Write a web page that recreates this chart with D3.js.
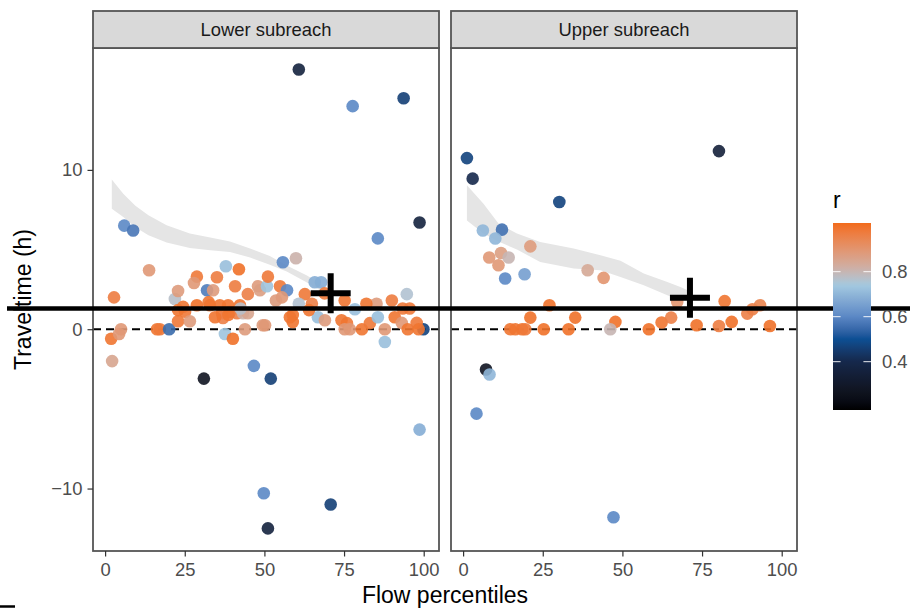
<!DOCTYPE html>
<html>
<head>
<meta charset="utf-8">
<script src="https://cdn.jsdelivr.net/npm/d3@7"></script>
<style>
  body { margin: 0; background: #fff; }
  svg { display: block; }
  text { font-family: "Liberation Sans", Arial, sans-serif; }
</style>
</head>
<body>
<svg id="chart" width="910" height="610"></svg>
<script>
// ---- data ----
const panelNames = ["Lower subreach", "Upper subreach"];

// Lower subreach: flow percentile, travel time (h), correlation r
const lowerX = [60.8, 77.7, 93.7, 6.0, 8.8, 98.7, 85.6, 2.2, 31.0, 46.7, 52.0, 98.7, 49.8, 70.8, 51.1,
  99.9, 87.8, 94.7, 13.8, 2.8, 1.9, 4.4, 5.0, 16.3, 17.2, 20.1, 21.9, 22.9, 28.8, 27.9,
  22.9, 24.5, 25.1, 22.9, 26.6, 32.0, 33.9, 35.1, 37.9, 42.0, 40.8, 44.8, 48.0, 48.6, 50.8,
  51.1, 28.8, 32.9, 38.6, 42.3, 36.7, 37.0, 39.2, 41.4, 43.3, 44.8, 37.6, 40.1, 43.9, 49.5,
  55.8, 59.9, 65.8, 67.8, 54.9, 57.1, 55.5, 53.6, 62.7, 64.9, 60.8, 58.9, 58.9, 50.2, 66.8,
  69.0, 78.4, 75.9, 76.8, 80.6, 83.1, 85.2, 85.6, 87.8, 90.0, 90.9, 93.1, 93.4, 95.0, 97.8,
  82.0, 75.2, 74.2, 75.2, 36.0, 42.5, 34.5, 38.7, 32.5, 58.0, 64.0, 68.9, 95.6, 98.4];
const lowerY = [16.3, 14.0, 14.5, 6.5, 6.2, 6.7, 5.7, -2.0, -3.1, -2.3, -3.1, -6.3, -10.3, -11.0, -12.5,
  0.0, -0.8, 2.2, 3.7, 2.0, -0.6, -0.3, 0.0, 0.0, 0.0, 0.0, 1.9, 2.4, 3.3, 2.9,
  0.5, 1.4, 1.1, 1.2, 0.5, 2.45, 2.45, 3.26, 3.95, 3.76, 2.7, 2.2, 2.7, 2.45, 2.7,
  3.3, 1.5, 1.5, 1.5, 1.5, 1.0, 0.7, 1.1, 1.0, 1.0, 1.0, -0.3, -0.6, 0.0, 0.25,
  4.2, 4.45, 2.95, 2.95, 2.7, 2.45, 2.0, 1.8, 2.2, 1.6, 1.6, 0.9, 0.45, 0.25, 0.75,
  0.56, 1.25, 0.38, 0.0, 0.0, 0.38, 1.6, 0.75, 0.0, 1.8, 0.75, 0.4, 1.3, 0.0, 0.4,
  1.6, 1.8, 0.56, 0.0, 1.5, 1.3, 0.75, 0.9, 1.7, 0.75, 1.2, 2.25, 1.3, 0.0];
const lowerR = [0.36, 0.60, 0.46, 0.60, 0.57, 0.36, 0.60, 0.85, 0.27, 0.60, 0.46, 0.68, 0.60, 0.46, 0.36,
  0.47, 0.72, 0.76, 0.89, 0.97, 0.99, 0.89, 0.89, 0.99, 0.98, 0.55, 0.77, 0.88, 0.98, 0.89,
  0.98, 0.99, 0.98, 0.99, 0.88, 0.58, 0.88, 0.97, 0.72, 1.00, 0.97, 0.96, 0.88, 0.87, 0.73,
  0.98, 1.00, 0.99, 0.99, 0.99, 0.97, 0.96, 0.98, 0.96, 0.81, 0.85, 0.73, 1.00, 0.88, 0.88,
  0.60, 0.81, 0.68, 0.68, 0.98, 0.60, 0.89, 0.88, 0.98, 0.96, 0.76, 0.99, 0.99, 0.89, 0.72,
  0.88, 0.72, 0.98, 0.89, 0.99, 0.98, 0.88, 0.72, 0.89, 0.97, 0.99, 0.89, 0.98, 0.99, 0.98,
  0.99, 0.99, 0.99, 0.89, 0.99, 0.77, 0.99, 0.99, 0.99, 0.99, 0.99, 0.98, 0.98, 0.99];

// Upper subreach
const upperX = [1.2, 3.0, 30.2, 6.2, 12.2, 10.1, 21.1, 8.2, 11.9, 14.3, 11.1, 13.2, 19.3, 39.1, 44.1,
  27.1, 21.1, 35.2, 47.8, 14.8, 16.4, 18.5, 19.5, 25.3, 33.1, 46.2, 7.2, 8.3, 4.2, 47.2,
  80.3, 58.3, 62.3, 65.3, 67.2, 73.3, 80.3, 82.1, 84.3, 89.2, 90.8, 93.2, 96.3];
const upperY = [10.74, 9.45, 7.98, 6.2, 6.25, 5.69, 5.2, 4.5, 4.78, 4.5, 4.01, 3.18, 3.45, 3.7, 3.22,
  1.5, 0.73, 0.73, 0.46, 0.0, 0.0, 0.0, 0.0, 0.0, 0.0, 0.0, -2.53, -2.84, -5.3, -11.8,
  11.18, 0.0, 0.42, 0.73, 1.71, 0.25, 0.2, 1.76, 0.46, 0.98, 1.25, 1.5, 0.2];
const upperR = [0.47, 0.40, 0.47, 0.70, 0.56, 0.70, 0.88, 0.89, 0.87, 0.80, 0.89, 0.60, 0.65, 0.84, 0.90,
  1.00, 1.00, 1.00, 1.00, 0.99, 0.99, 0.99, 0.98, 1.00, 1.00, 0.80, 0.27, 0.70, 0.60, 0.60,
  0.35, 1.00, 0.99, 0.96, 0.90, 1.00, 0.97, 0.99, 1.00, 0.96, 0.96, 0.95, 1.00];

// Shaded band (percentile, lower and upper bound, h)
const lowerBandX  = [2.1, 5.7, 9.5, 13.6, 19.3, 26.6, 33.0, 39.2, 45.5, 51.7, 57.0, 63.2, 66.5, 69.5];
const lowerBandHi = [9.39, 8.5, 7.75, 7.15, 6.52, 6.0, 5.75, 5.5, 5.06, 4.6, 4.0, 3.39, 3.0, 2.55];
const lowerBandLo = [7.56, 7.04, 6.4, 5.9, 5.45, 5.1, 4.95, 4.85, 4.5, 4.05, 3.62, 2.95, 2.55, 2.24];
const upperBandX  = [1.2, 6.4, 11.1, 16.9, 24.2, 34.7, 43.1, 49.4, 56.7, 64.1, 68.2, 70.5];
const upperBandHi = [9.03, 7.88, 6.63, 6.0, 5.47, 5.06, 4.64, 4.3, 3.49, 2.97, 2.65, 2.45];
const upperBandLo = [6.83, 6.0, 5.5, 5.0, 4.22, 3.81, 3.7, 3.28, 2.76, 2.13, 1.8, 1.9];

// Central marker per reach (percentile, h)
const centreX = [70.8, 71.2];
const centreY = [2.25, 1.97];

// Overall reference level (h)
const referenceLevel = 1.3;

const xTicks = [0, 25, 50, 75, 100];
const yTicks = [-10, 0, 10];
const legendTicks = [0.4, 0.6, 0.8];

// colour scale for r
const rStops   = [0.185, 0.40, 0.50, 0.60, 0.74, 0.82, 1.016];
const rColours = ["#000000", "#15284b", "#0b4f94", "#5b88c5", "#a3c9e0", "#cfaea3", "#f26b1b"];

// ---- layout ----
const svg = d3.select("#chart");
const panelLeft = [93, 451];
const panelW = 346;
const plotTop = 48, plotBottom = 551;
const stripTop = 11;

const x = d3.scaleLinear().domain([-3.8, 104.8]).range([0, panelW]);
const y = d3.scaleLinear().domain([-13.92, 17.65]).range([plotBottom, plotTop]);
const colour = d3.scaleLinear().domain(rStops).range(rColours)
  .interpolate(d3.interpolateLab).clamp(true);

const panelData = [
  { xs: lowerX, ys: lowerY, rs: lowerR, bx: lowerBandX, bh: lowerBandHi, bl: lowerBandLo },
  { xs: upperX, ys: upperY, rs: upperR, bx: upperBandX, bh: upperBandHi, bl: upperBandLo }
];

panelData.forEach((pd, i) => {
  const g = svg.append("g").attr("transform", `translate(${panelLeft[i]},0)`);

  // clip to panel
  const clipId = "clip" + i;
  g.append("clipPath").attr("id", clipId)
    .append("rect").attr("x", 0).attr("y", plotTop).attr("width", panelW).attr("height", plotBottom - plotTop);

  const body = g.append("g").attr("clip-path", `url(#${clipId})`);

  // band
  const band = pd.bx.map((v, k) => ({ x: v, lo: pd.bl[k], hi: pd.bh[k] }));
  body.append("path")
    .datum(band)
    .attr("fill", "#e5e5e5")
    .attr("d", d3.area().x(d => x(d.x)).y0(d => y(d.lo)).y1(d => y(d.hi)));

  // zero line
  body.append("line")
    .attr("x1", 0).attr("x2", panelW)
    .attr("y1", y(0)).attr("y2", y(0))
    .attr("stroke", "#000").attr("stroke-width", 2)
    .attr("stroke-dasharray", "8,5");

  // points
  const pts = pd.xs.map((v, k) => ({ x: v, y: pd.ys[k], r: pd.rs[k] }));
  body.selectAll("circle").data(pts).enter().append("circle")
    .attr("cx", d => x(d.x))
    .attr("cy", d => y(d.y))
    .attr("r", 6.3)
    .attr("fill", d => colour(d.r))
    .attr("fill-opacity", 0.9);

  // centre marker (plus)
  const cx = x(centreX[i]), cy = y(centreY[i]);
  g.append("path")
    .attr("d", `M${cx - 20},${cy}H${cx + 20}M${cx},${cy - 20}V${cy + 20}`)
    .attr("stroke", "#000").attr("stroke-width", 6).attr("fill", "none");

  // panel border
  g.append("rect")
    .attr("x", 0).attr("y", plotTop).attr("width", panelW).attr("height", plotBottom - plotTop)
    .attr("fill", "none").attr("stroke", "#555").attr("stroke-width", 1.8);

  // strip
  g.append("rect")
    .attr("x", 0).attr("y", stripTop).attr("width", panelW).attr("height", plotTop - stripTop)
    .attr("fill", "#d9d9d9").attr("stroke", "#555").attr("stroke-width", 1.8);
  g.append("text")
    .attr("x", panelW / 2).attr("y", 36)
    .attr("text-anchor", "middle")
    .attr("font-size", 18.4).attr("fill", "#1a1a1a")
    .text(panelNames[i]);

  // x axis
  const xa = g.append("g").attr("transform", `translate(0,${plotBottom})`)
    .call(d3.axisBottom(x).tickValues(xTicks).tickSize(5.5).tickPadding(6).tickFormat(d3.format("d")));
  xa.select(".domain").remove();
  xa.selectAll(".tick line").attr("stroke", "#333").attr("stroke-width", 1.2);
  xa.selectAll(".tick text").attr("font-size", 18.4).attr("fill", "#4d4d4d")
    .style("font-family", '"Liberation Sans", Arial, sans-serif');

  if (i === 0) {
    const ya = g.append("g")
      .call(d3.axisLeft(y).tickValues(yTicks).tickSize(5.5).tickPadding(5));
    ya.select(".domain").remove();
    ya.selectAll(".tick line").attr("stroke", "#333").attr("stroke-width", 1.2);
    ya.selectAll(".tick text").attr("font-size", 18.4).attr("fill", "#4d4d4d")
      .style("font-family", '"Liberation Sans", Arial, sans-serif');
  }
});

// axis titles
svg.append("text")
  .attr("x", (panelLeft[0] + panelLeft[1] + panelW) / 2).attr("y", 603)
  .attr("text-anchor", "middle").attr("font-size", 23).attr("fill", "#000")
  .text("Flow percentiles");
svg.append("text")
  .attr("transform", `translate(31,${(plotTop + plotBottom) / 2}) rotate(-90)`)
  .attr("text-anchor", "middle").attr("font-size", 23).attr("fill", "#000")
  .text("Traveltime (h)");

// reference level drawn across the figure
svg.append("line")
  .attr("x1", 7).attr("x2", 910)
  .attr("y1", y(referenceLevel)).attr("y2", y(referenceLevel))
  .attr("stroke", "#000").attr("stroke-width", 4.5);

// ---- colour bar legend ----
const barX = 833, barW = 38, barTop = 223, barBottom = 410;
const legendScale = d3.scaleLinear().domain([0.185, 1.016]).range([barBottom, barTop]);
const defs = svg.append("defs");
const grad = defs.append("linearGradient").attr("id", "rgrad")
  .attr("x1", 0).attr("y1", 1).attr("x2", 0).attr("y2", 0);
d3.range(0, 1.0001, 0.02).forEach(t => {
  grad.append("stop").attr("offset", t)
    .attr("stop-color", colour(0.185 + t * (1.016 - 0.185)));
});
svg.append("rect")
  .attr("x", barX).attr("y", barTop).attr("width", barW).attr("height", barBottom - barTop)
  .attr("fill", "url(#rgrad)");
legendTicks.forEach(v => {
  const ty = legendScale(v);
  svg.append("line").attr("x1", barX).attr("x2", barX + 7.6).attr("y1", ty).attr("y2", ty)
    .attr("stroke", "#fff").attr("stroke-opacity", 0.75).attr("stroke-width", 1.2);
  svg.append("line").attr("x1", barX + barW - 7.6).attr("x2", barX + barW).attr("y1", ty).attr("y2", ty)
    .attr("stroke", "#fff").attr("stroke-opacity", 0.75).attr("stroke-width", 1.2);
  svg.append("text").attr("x", 882).attr("y", ty).attr("dy", "0.36em")
    .attr("font-size", 18.4).attr("fill", "#4d4d4d").text(d3.format(".1f")(v));
});
svg.append("text").attr("x", 833).attr("y", 208).attr("font-size", 23).attr("fill", "#000").text("r");

// small mark at the lower-left corner
svg.append("line").attr("x1", 0).attr("x2", 15).attr("y1", 606.5).attr("y2", 606.5)
  .attr("stroke", "#000").attr("stroke-width", 2.5);
</script>
</body>
</html>
